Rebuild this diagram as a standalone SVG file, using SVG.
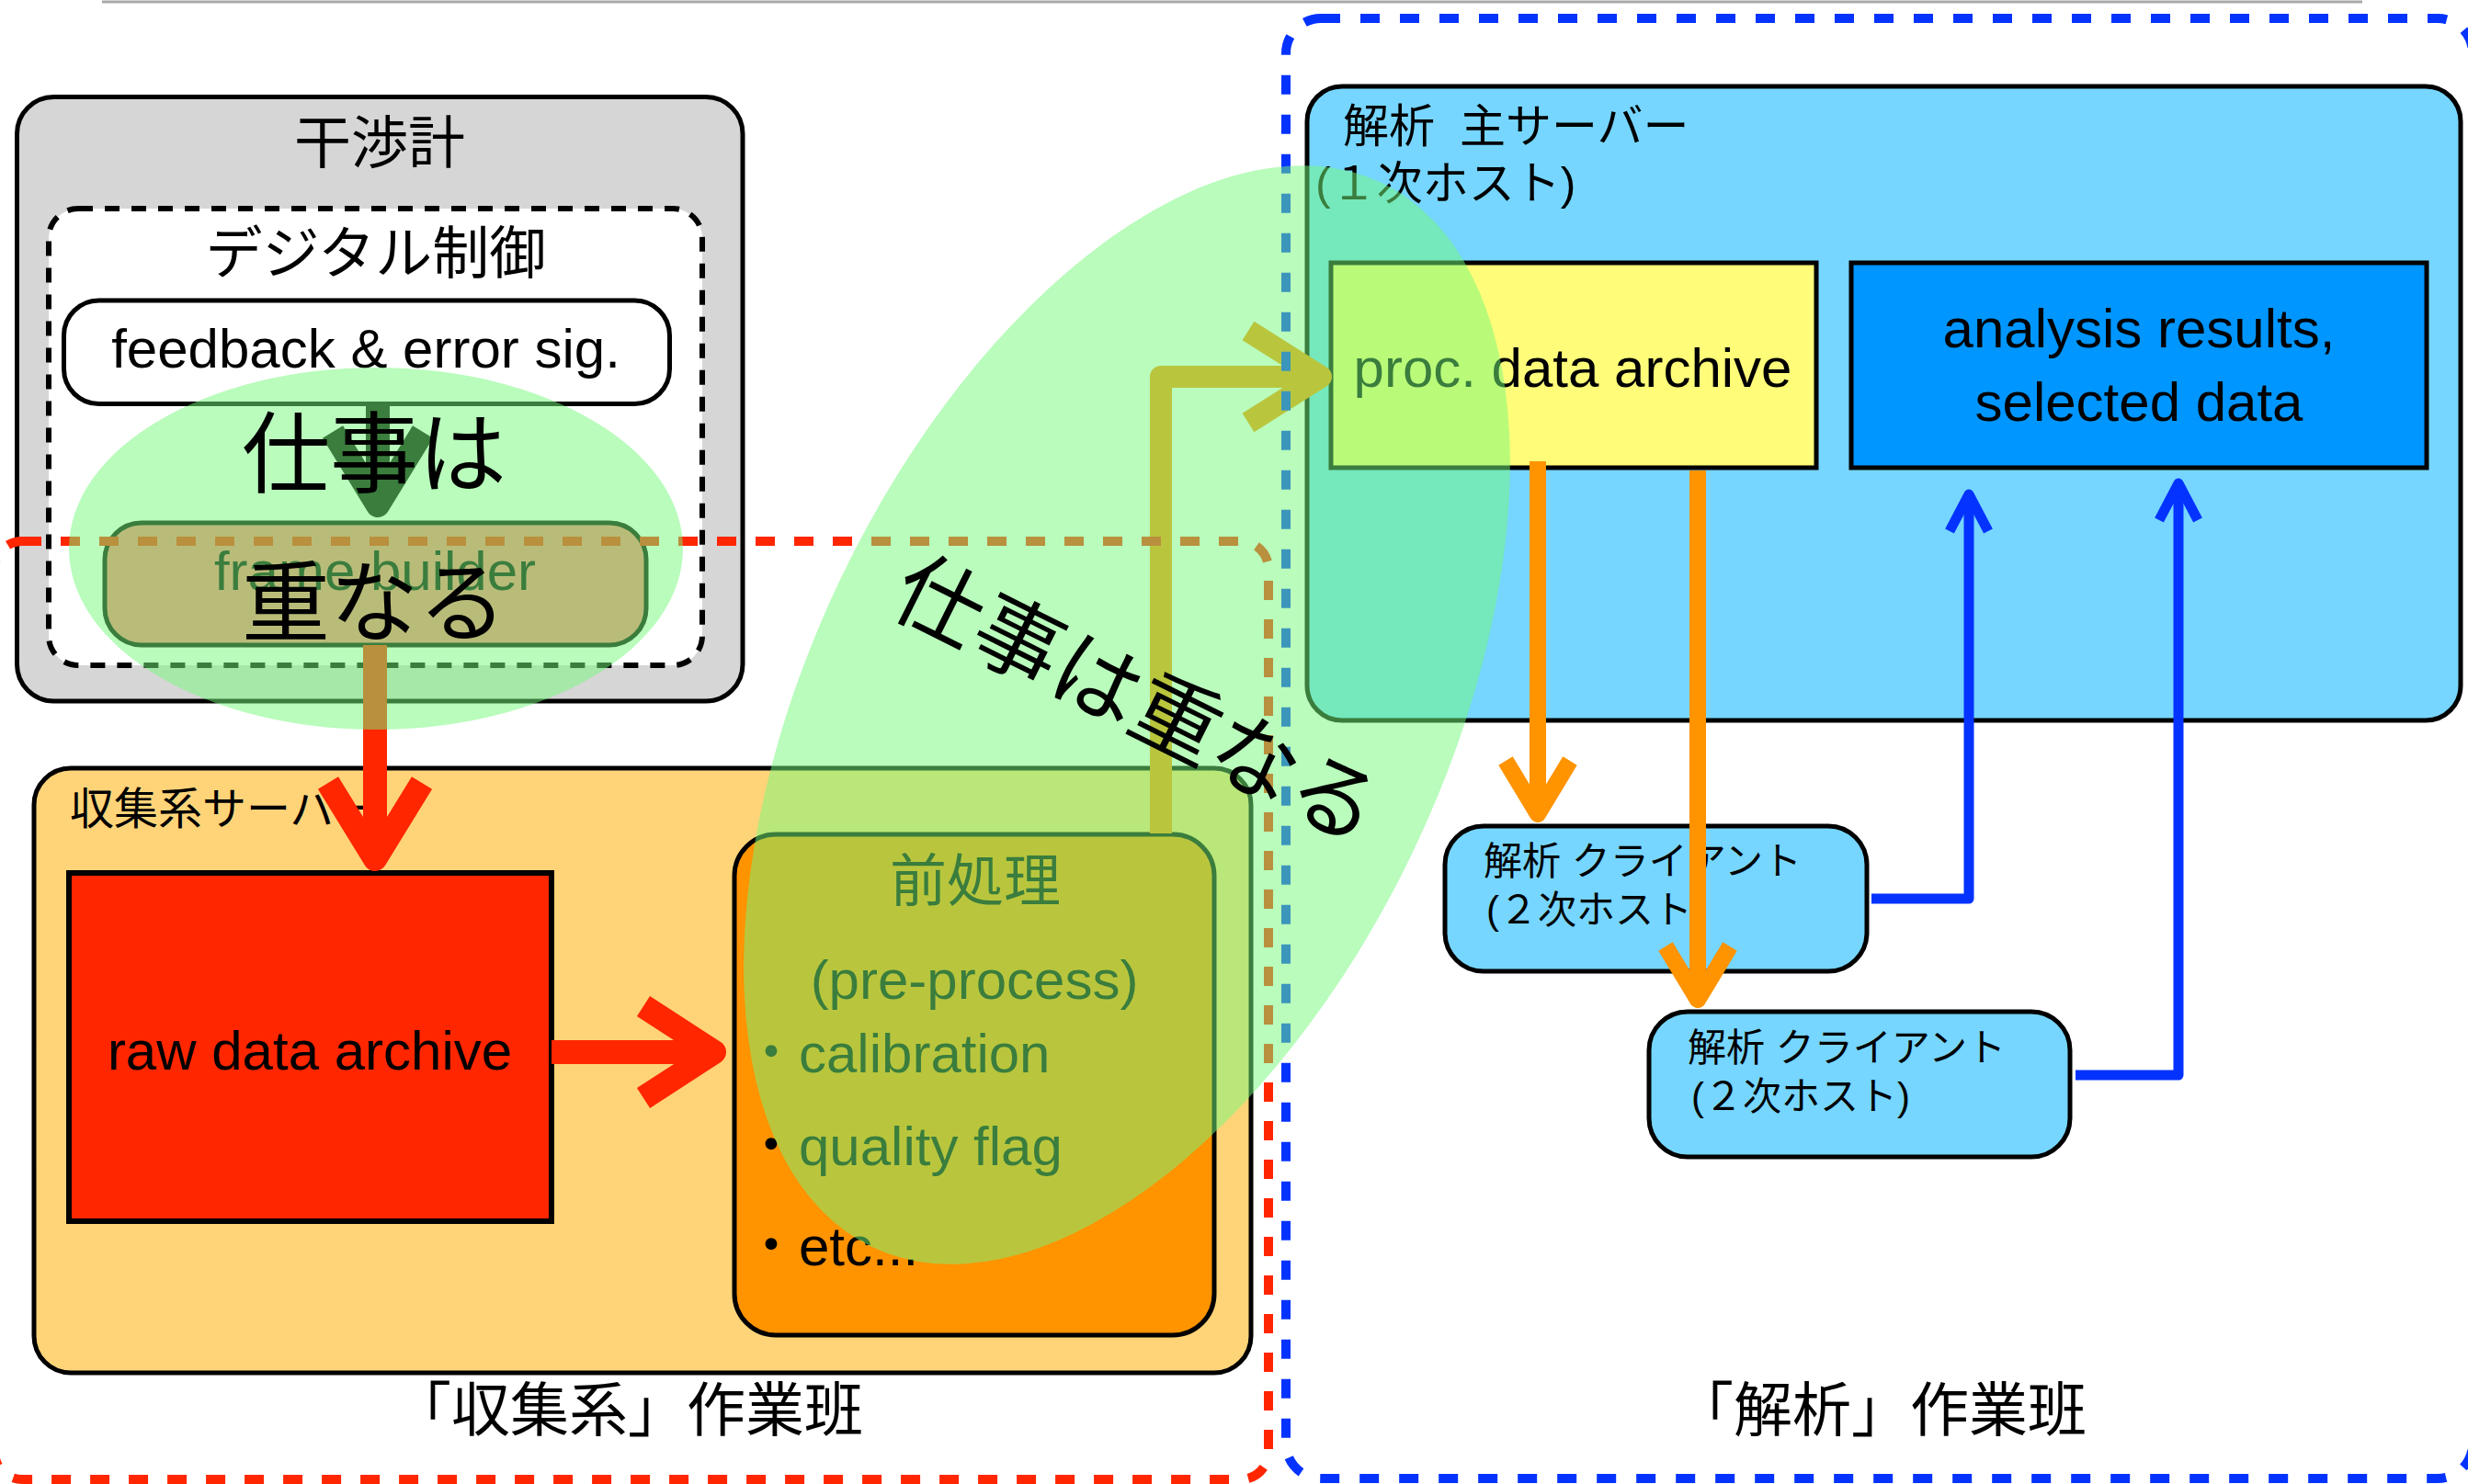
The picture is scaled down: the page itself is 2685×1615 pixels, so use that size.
<svg xmlns="http://www.w3.org/2000/svg" width="2685" height="1615" viewBox="0 0 2685 1615">
<style>
.t{font-family:"Liberation Sans","Noto Sans CJK JP",sans-serif;fill:#000}
.lat{font-size:60px}
.box{stroke:#000;stroke-width:5}
.ov{fill:#73fa79;opacity:0.5}
.arr{fill:none;stroke-linejoin:round}
.grp{fill:none;stroke-width:10}
</style>
<rect width="2685" height="1615" fill="#fff"/>
<line x1="111" y1="2" x2="2570" y2="2" stroke="#a9a9a9" stroke-width="3"/>

<g id="interferometer">
<rect class="box" x="18.5" y="105.5" width="789.5" height="657.5" rx="40" fill="#d6d6d6"/>
<text class="t" x="413" y="178" font-size="62" text-anchor="middle">干渉計</text>
</g>
<g id="digital-control">
<rect x="53" y="227" width="711" height="497" rx="32" fill="#fff" stroke="#000" stroke-width="6" stroke-dasharray="16 13"/>
<text class="t" x="409" y="298" font-size="62" text-anchor="middle">デジタル制御</text>
</g>
<g id="feedback">
<rect class="box" x="69.5" y="327" width="659" height="112.5" rx="38" fill="#fff"/>
<text class="t lat" x="398" y="400" text-anchor="middle">feedback &amp; error sig.</text>
</g>
<g id="frame-builder">
<rect class="box" x="114" y="569" width="589" height="133" rx="40" fill="#ff7e79"/>
<text class="t lat" x="408" y="642" text-anchor="middle">frame builder</text>
</g>
<g id="collection-server">
<rect class="box" x="37" y="836" width="1324" height="658" rx="40" fill="#ffd479"/>
<text class="t" x="76" y="897" font-size="48">収集系サーバー</text>
</g>
<g id="raw-archive">
<rect x="75" y="950" width="525" height="379" fill="#ff2600" stroke="#000" stroke-width="6"/>
<text class="t lat" x="337" y="1164" text-anchor="middle">raw data archive</text>
</g>
<g id="preprocess">
<rect class="box" x="799" y="908" width="522" height="545" rx="45" fill="#ff9300"/>
<text class="t" x="1061" y="981" font-size="62" text-anchor="middle">前処理</text>
<text class="t lat" x="1060" y="1087" text-anchor="middle">(pre-process)</text>
<text class="t lat" x="809" y="1167">・calibration</text>
<text class="t lat" x="809" y="1268">・quality flag</text>
<text class="t lat" x="809" y="1377">・etc...</text>
</g>
<g id="analysis-server">
<rect class="box" x="1422" y="94" width="1255" height="690" rx="38" fill="#76d6ff"/>
<text class="t" x="1461" y="155" font-size="50">解析<tspan x="1588">主サーバー</tspan></text>
<text class="t" x="1431" y="217" font-size="50">(１次ホスト)</text>
</g>
<g id="proc-archive">
<rect class="box" x="1448" y="286" width="528" height="223" fill="#fffc79"/>
<text class="t lat" x="1711" y="421" text-anchor="middle">proc. data archive</text>
</g>
<g id="analysis-results">
<rect class="box" x="2014" y="286" width="626" height="223" fill="#0096ff"/>
<text class="t lat" x="2327" y="378" text-anchor="middle">analysis results,</text>
<text class="t lat" x="2327" y="458" text-anchor="middle">selected data</text>
</g>
<g id="client1">
<rect class="box" x="1572" y="899" width="459" height="158" rx="42" fill="#76d6ff"/>
<text class="t" x="1614" y="952" font-size="42">解析 クライアント</text>
<text class="t" x="1617" y="1005" font-size="42">(２次ホスト)</text>
</g>
<g id="client2">
<rect class="box" x="1794" y="1101" width="458" height="158" rx="42" fill="#76d6ff"/>
<text class="t" x="1836" y="1155" font-size="42">解析 クライアント</text>
<text class="t" x="1840" y="1208" font-size="42">(２次ホスト)</text>
</g>

<g id="connectors">
<g stroke="#000" stroke-width="26" class="arr">
<line x1="411" y1="441" x2="411" y2="548"/>
<polyline points="362,470 411,550 460,470"/>
</g>
<g stroke="#ff2600" stroke-width="26" class="arr">
<line x1="408" y1="702" x2="408" y2="930"/>
<polyline points="357,852 408,935 459,852"/>
<line x1="600" y1="1145" x2="772" y2="1145"/>
<polyline points="700,1095 777,1145 700,1195"/>
</g>
<g stroke="#ff9300" stroke-width="24" class="arr">
<polyline points="1263,907 1263,410 1432,410"/>
<polyline points="1358,360 1437,410 1358,460"/>
</g>
<g stroke="#ff9300" stroke-width="18" class="arr">
<line x1="1673" y1="502" x2="1673" y2="882"/>
<polyline points="1638,828 1673,886 1708,828"/>
<line x1="1847" y1="512" x2="1847" y2="1084"/>
<polyline points="1812,1030 1847,1088 1882,1030"/>
</g>
<g stroke="#0433ff" stroke-width="11" class="arr">
<polyline points="2036,978 2142,978 2142,542"/>
<polyline points="2121,578 2142,538 2163,578"/>
<polyline points="2258,1170 2370,1170 2370,530"/>
<polyline points="2349,566 2370,526 2391,566"/>
</g>
</g>

<g id="group-collection">
<rect class="grp" x="-6" y="589" width="1386" height="1021" rx="30" stroke="#ff2600" stroke-dasharray="21 21"/>
<text class="t" x="683" y="1557" font-size="64" text-anchor="middle">「収集系」作業班</text>
</g>
<g id="group-analysis">
<rect class="grp" x="1399" y="20" width="1291" height="1589" rx="38" stroke="#0433ff" stroke-dasharray="21 22"/>
<text class="t" x="2046" y="1557" font-size="64" text-anchor="middle">「解析」作業班</text>
</g>

<g id="overlap-left">
<ellipse class="ov" cx="409" cy="597" rx="334" ry="197"/>
<text class="t" x="407" y="528" font-size="96" text-anchor="middle">仕事は</text>
<text class="t" x="407" y="690" font-size="96" text-anchor="middle">重なる</text>
</g>
<g id="overlap-right">
<ellipse class="ov" cx="1226" cy="778" rx="642" ry="345" transform="rotate(-64.4 1226 778)"/>
<text class="t" x="1238" y="796" font-size="96" text-anchor="middle" transform="rotate(26.5 1238 760)">仕事は重なる</text>
</g>
</svg>
